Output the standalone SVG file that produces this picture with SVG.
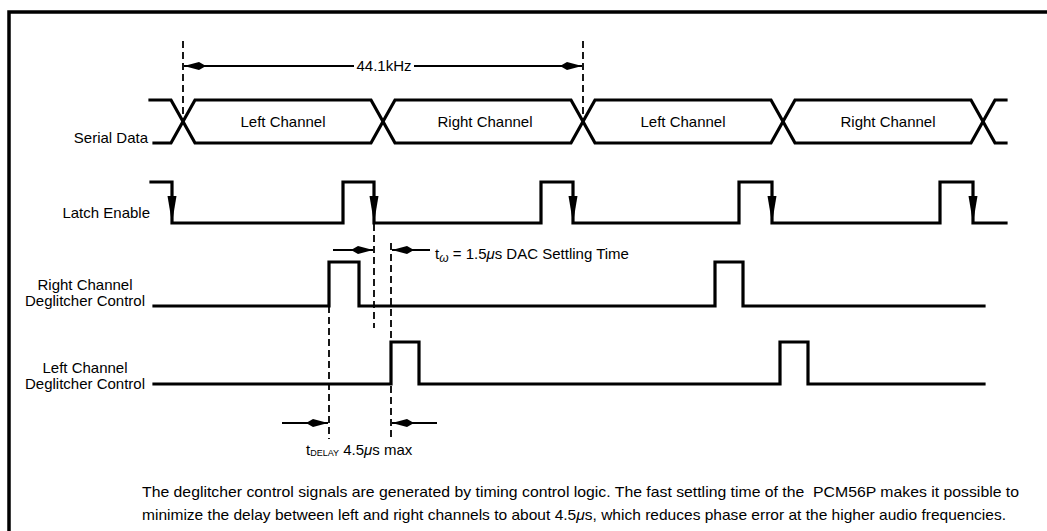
<svg xmlns="http://www.w3.org/2000/svg" width="1047" height="531" viewBox="0 0 1047 531">
<style>
  .wave{fill:none;stroke:#000;stroke-width:3.2;stroke-linejoin:miter;stroke-linecap:square}
  .dash{fill:none;stroke:#000;stroke-width:1.8;stroke-dasharray:7,4}
  .dim{fill:none;stroke:#000;stroke-width:1.8}
  .head{fill:#000;stroke:none}
  .lbl{font-family:"Liberation Sans",Arial,sans-serif;font-size:15px;fill:#000}
  .cap{font-family:"Liberation Sans",Arial,sans-serif;font-size:15px;fill:#000}
</style>
<defs>
  <marker id="spindle" markerUnits="userSpaceOnUse" markerWidth="28" markerHeight="12" viewBox="-26 -6 28 12" refX="0" refY="0" orient="auto">
    <path d="M0,0 L-15,-4 L-22,0 L-15,4 Z" fill="#000"/>
  </marker>
</defs>
<rect width="1047" height="531" fill="#fff"/>
<g id="frame" fill="none" stroke="#000" stroke-width="3.5">
  <path d="M9,531 L9,12 L1047,12"/>
</g>

<g id="serial-data">
  <path class="wave" d="M150,100 L171,100 L195,143 L371,143 L395,100 L571,100 L595,143 L771,143 L795,100 L971,100 L995,143 L1006,143"/>
  <path class="wave" d="M154,143 L171,143 L195,100 L371,100 L395,143 L571,143 L595,100 L771,100 L795,143 L971,143 L995,100 L1006,100"/>
  <text class="lbl" x="148" y="143" text-anchor="end">Serial Data</text>
  <text class="lbl" x="283" y="127" text-anchor="middle">Left Channel</text>
  <text class="lbl" x="485" y="127" text-anchor="middle">Right Channel</text>
  <text class="lbl" x="683" y="127" text-anchor="middle">Left Channel</text>
  <text class="lbl" x="888" y="127" text-anchor="middle">Right Channel</text>
</g>

<g id="latch-enable">
  <path class="wave" d="M151,182 L172,182 L172,223 L343,223 L343,182 L374,182 L374,223 L541,223 L541,182 L573,182 L573,223 L739,223 L739,182 L772,182 L772,223 L940,223 L940,182 L973,182 L973,223 L1006,223"/>
  <path class="head" d="M167.5,196 L176.5,196 L172,223 Z"/>
  <path class="head" d="M369.5,196 L378.5,196 L374,223 Z"/>
  <path class="head" d="M568.5,196 L577.5,196 L573,223 Z"/>
  <path class="head" d="M767.5,196 L776.5,196 L772,223 Z"/>
  <path class="head" d="M968.5,196 L977.5,196 L973,223 Z"/>
  <text class="lbl" x="150" y="218" text-anchor="end">Latch Enable</text>
</g>

<g id="right-deglitcher">
  <path class="wave" d="M154,306 L329,306 L329,262 L359,262 L359,306 L715,306 L715,262 L743,262 L743,306 L984,306"/>
  <text class="lbl" x="85" y="290" text-anchor="middle">Right Channel</text>
  <text class="lbl" x="85" y="306" text-anchor="middle">Deglitcher Control</text>
</g>

<g id="left-deglitcher">
  <path class="wave" d="M154,384 L391,384 L391,342 L419,342 L419,384 L780,384 L780,342 L808,342 L808,384 L984,384"/>
  <text class="lbl" x="85" y="373" text-anchor="middle">Left Channel</text>
  <text class="lbl" x="85" y="389" text-anchor="middle">Deglitcher Control</text>
</g>

<g id="connectors">
  <line class="dash" x1="183" y1="41" x2="183" y2="122"/>
  <line class="dash" x1="583" y1="41" x2="583" y2="122"/>
  <line class="dash" x1="374" y1="224" x2="374" y2="328"/>
  <line class="dash" x1="391" y1="243" x2="391" y2="439"/>
  <line class="dash" x1="329" y1="306" x2="329" y2="439"/>

  <line class="dim" x1="354" y1="66" x2="184" y2="66" marker-end="url(#spindle)"/>
  <line class="dim" x1="414" y1="66" x2="582" y2="66" marker-end="url(#spindle)"/>

  <line class="dim" x1="333" y1="250" x2="373" y2="250" marker-end="url(#spindle)"/>
  <line class="dim" x1="430" y1="250" x2="392" y2="250" marker-end="url(#spindle)"/>

  <line class="dim" x1="282" y1="423" x2="328" y2="423" marker-end="url(#spindle)"/>
  <line class="dim" x1="437" y1="423" x2="392" y2="423" marker-end="url(#spindle)"/>
</g>

<g id="labels">
  <text class="lbl" x="384" y="71" text-anchor="middle">44.1kHz</text>
  <text class="lbl" x="435" y="259">t<tspan font-size="12" font-style="italic" dy="3">ω</tspan><tspan dy="-3"> = 1.5</tspan><tspan font-style="italic">μ</tspan>s DAC Settling Time</text>
  <text class="lbl" x="306" y="455" font-size="14">t<tspan font-size="9" dy="1">DELAY</tspan><tspan dy="-1"> 4.5</tspan><tspan font-style="italic">μ</tspan>s max</text>
  <text class="cap" x="142" y="497" textLength="877" lengthAdjust="spacingAndGlyphs" xml:space="preserve">The deglitcher control signals are generated by timing control logic. The fast settling time of the  PCM56P makes it possible to</text>
  <text class="cap" x="142" y="520" textLength="864" lengthAdjust="spacingAndGlyphs">minimize the delay between left and right channels to about 4.5<tspan font-style="italic">μ</tspan>s, which reduces phase error at the higher audio frequencies.</text>
</g>
</svg>
